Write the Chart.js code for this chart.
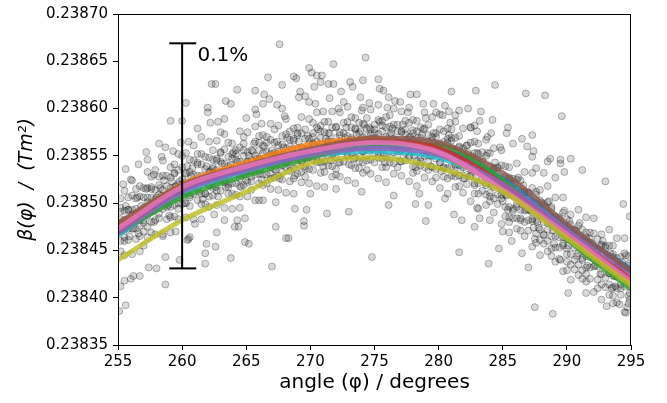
<!DOCTYPE html>
<html>
<head>
<meta charset="utf-8">
<script src="https://cdn.jsdelivr.net/npm/chart.js@4.4.1/dist/chart.umd.min.js"></script>
<style>
  body { margin: 0; background: #fff; }
  canvas { display: block; }
</style>
</head>
<body>
<canvas id="chart" width="667" height="403"></canvas>
<script>
/* ==========================
   DATA
========================== */
const angles = [255, 260, 265, 270, 275, 280, 285, 290, 295];

const fitBlue   = [0.238470, 0.238514, 0.238536, 0.238552, 0.238560, 0.238556, 0.238526, 0.238475, 0.238430];
const fitOrange = [0.238476, 0.238520, 0.238543, 0.238562, 0.238568, 0.238552, 0.238516, 0.238466, 0.238416];
const fitGreen  = [0.238469, 0.238506, 0.238529, 0.238548, 0.238563, 0.238561, 0.238524, 0.238462, 0.238409];
const fitRed    = [0.238471, 0.238515, 0.238538, 0.238555, 0.238566, 0.238558, 0.238520, 0.238469, 0.238420];
const fitPurple = [0.238468, 0.238512, 0.238535, 0.238551, 0.238558, 0.238551, 0.238520, 0.238472, 0.238426];
const fitBrown  = [0.238479, 0.238519, 0.238540, 0.238557, 0.238569, 0.238564, 0.238532, 0.238478, 0.238428];
const fitPink   = [0.238473, 0.238517, 0.238539, 0.238555, 0.238564, 0.238554, 0.238514, 0.238467, 0.238417];
const fitOlive  = [0.238440, 0.238482, 0.238512, 0.238542, 0.238548, 0.238537, 0.238512, 0.238463, 0.238413];
const fitCyan   = [0.238466, 0.238510, 0.238533, 0.238550, 0.238555, 0.238548, 0.238519, 0.238469, 0.238418];

// measured points, main band
const coreDots = [
  [255.2,0.238495],[255.2,0.238483],[255.2,0.238471],[255.2,0.238460],[255.2,0.238505],[255.2,0.238449],
  [255.8,0.238493],[255.8,0.238473],[255.8,0.238506],[255.8,0.238461],[255.8,0.238483],
  [256.4,0.238505],[256.4,0.238485],[256.4,0.238473],[256.4,0.238515],[256.4,0.238462],[256.4,0.238494],
  [257.0,0.238482],[257.0,0.238506],[257.0,0.238495],[257.0,0.238470],[257.0,0.238516],
  [257.6,0.238506],[257.6,0.238480],[257.6,0.238517],[257.6,0.238492],[257.6,0.238469],[257.6,0.238528],
  [258.2,0.238500],[258.2,0.238519],[258.2,0.238484],[258.2,0.238528],[258.2,0.238509],
  [258.8,0.238518],[258.8,0.238496],[258.8,0.238529],[258.8,0.238483],[258.8,0.238508],[258.8,0.238501],
  [259.4,0.238498],[259.4,0.238517],[259.4,0.238531],[259.4,0.238486],[259.4,0.238541],
  [260.0,0.238525],[260.0,0.238508],[260.0,0.238538],[260.0,0.238499],[260.0,0.238515],[260.0,0.238550],
  [260.6,0.238508],[260.6,0.238533],[260.6,0.238522],[260.6,0.238497],[260.6,0.238546],
  [261.2,0.238529],[261.2,0.238516],[261.2,0.238541],[261.2,0.238503],[261.2,0.238552],[261.2,0.238522],
  [261.8,0.238510],[261.8,0.238536],[261.8,0.238549],[261.8,0.238522],[261.8,0.238499],
  [262.4,0.238532],[262.4,0.238516],[262.4,0.238546],[262.4,0.238556],[262.4,0.238508],[262.4,0.238538],
  [263.0,0.238524],[263.0,0.238544],[263.0,0.238513],[263.0,0.238554],[263.0,0.238533],
  [263.6,0.238549],[263.6,0.238529],[263.6,0.238510],[263.6,0.238564],[263.6,0.238539],[263.6,0.238520],
  [264.2,0.238535],[264.2,0.238556],[264.2,0.238521],[264.2,0.238546],[264.2,0.238509],
  [264.8,0.238550],[264.8,0.238530],[264.8,0.238563],[264.8,0.238519],[264.8,0.238541],[264.8,0.238570],
  [265.4,0.238534],[265.4,0.238556],[265.4,0.238523],[265.4,0.238546],[265.4,0.238514],
  [266.0,0.238547],[266.0,0.238531],[266.0,0.238564],[266.0,0.238521],[266.0,0.238556],[266.0,0.238571],
  [266.6,0.238530],[266.6,0.238554],[266.6,0.238542],[266.6,0.238570],[266.6,0.238521],
  [267.2,0.238553],[267.2,0.238536],[267.2,0.238564],[267.2,0.238527],[267.2,0.238547],[267.2,0.238578],
  [267.8,0.238540],[267.8,0.238562],[267.8,0.238525],[267.8,0.238571],[267.8,0.238551],
  [268.4,0.238560],[268.4,0.238546],[268.4,0.238534],[268.4,0.238576],[268.4,0.238523],[268.4,0.238567],
  [269.0,0.238541],[269.0,0.238558],[269.0,0.238572],[269.0,0.238531],[269.0,0.238580],
  [269.6,0.238556],[269.6,0.238539],[269.6,0.238568],[269.6,0.238548],[269.6,0.238578],[269.6,0.238528],
  [270.2,0.238563],[270.2,0.238546],[270.2,0.238535],[270.2,0.238574],[270.2,0.238585],
  [270.8,0.238553],[270.8,0.238569],[270.8,0.238543],[270.8,0.238582],[270.8,0.238532],[270.8,0.238561],
  [271.4,0.238574],[271.4,0.238551],[271.4,0.238540],[271.4,0.238565],[271.4,0.238586],
  [272.0,0.238559],[272.0,0.238580],[272.0,0.238548],[272.0,0.238569],[272.0,0.238536],[272.0,0.238530],
  [272.6,0.238574],[272.6,0.238555],[272.6,0.238585],[272.6,0.238544],[272.6,0.238564],
  [273.2,0.238553],[273.2,0.238569],[273.2,0.238540],[273.2,0.238580],[273.2,0.238591],[273.2,0.238560],
  [273.8,0.238574],[273.8,0.238549],[273.8,0.238565],[273.8,0.238537],[273.8,0.238585],
  [274.4,0.238558],[274.4,0.238579],[274.4,0.238545],[274.4,0.238571],[274.4,0.238590],[274.4,0.238535],
  [275.0,0.238567],[275.0,0.238553],[275.0,0.238583],[275.0,0.238543],[275.0,0.238574],
  [275.6,0.238556],[275.6,0.238576],[275.6,0.238547],[275.6,0.238587],[275.6,0.238538],[275.6,0.238564],
  [276.2,0.238572],[276.2,0.238560],[276.2,0.238543],[276.2,0.238581],[276.2,0.238593],
  [276.8,0.238550],[276.8,0.238567],[276.8,0.238583],[276.8,0.238538],[276.8,0.238576],[276.8,0.238558],
  [277.4,0.238563],[277.4,0.238545],[277.4,0.238573],[277.4,0.238587],[277.4,0.238553],
  [278.0,0.238539],[278.0,0.238567],[278.0,0.238577],[278.0,0.238555],[278.0,0.238588],[278.0,0.238532],
  [278.6,0.238569],[278.6,0.238548],[278.6,0.238580],[278.6,0.238540],[278.6,0.238559],
  [279.2,0.238554],[279.2,0.238572],[279.2,0.238535],[279.2,0.238565],[279.2,0.238583],[279.2,0.238544],
  [279.8,0.238561],[279.8,0.238547],[279.8,0.238574],[279.8,0.238536],[279.8,0.238527],
  [280.4,0.238551],[280.4,0.238565],[280.4,0.238538],[280.4,0.238576],[280.4,0.238528],[280.4,0.238557],
  [281.0,0.238558],[281.0,0.238539],[281.0,0.238569],[281.0,0.238529],[281.0,0.238578],
  [281.6,0.238540],[281.6,0.238560],[281.6,0.238529],[281.6,0.238550],[281.6,0.238571],[281.6,0.238518],
  [282.2,0.238549],[282.2,0.238530],[282.2,0.238561],[282.2,0.238520],[282.2,0.238543],
  [282.8,0.238534],[282.8,0.238553],[282.8,0.238521],[282.8,0.238546],[282.8,0.238565],[282.8,0.238510],
  [283.4,0.238543],[283.4,0.238524],[283.4,0.238554],[283.4,0.238513],[283.4,0.238535],
  [284.0,0.238521],[284.0,0.238539],[284.0,0.238502],[284.0,0.238533],[284.0,0.238553],[284.0,0.238511],
  [284.6,0.238527],[284.6,0.238509],[284.6,0.238538],[284.6,0.238499],[284.6,0.238520],
  [285.2,0.238509],[285.2,0.238528],[285.2,0.238496],[285.2,0.238519],[285.2,0.238539],[285.2,0.238486],
  [285.8,0.238515],[285.8,0.238494],[285.8,0.238526],[285.8,0.238484],[285.8,0.238508],
  [286.4,0.238493],[286.4,0.238512],[286.4,0.238482],[286.4,0.238504],[286.4,0.238524],[286.4,0.238471],
  [287.0,0.238500],[287.0,0.238482],[287.0,0.238511],[287.0,0.238471],[287.0,0.238493],
  [287.6,0.238482],[287.6,0.238500],[287.6,0.238468],[287.6,0.238491],[287.6,0.238512],[287.6,0.238458],
  [288.2,0.238488],[288.2,0.238467],[288.2,0.238499],[288.2,0.238457],[288.2,0.238480],
  [288.8,0.238465],[288.8,0.238484],[288.8,0.238452],[288.8,0.238477],[288.8,0.238496],[288.8,0.238444],
  [289.4,0.238472],[289.4,0.238453],[289.4,0.238483],[289.4,0.238441],[289.4,0.238464],
  [290.0,0.238452],[290.0,0.238471],[290.0,0.238438],[290.0,0.238462],[290.0,0.238483],[290.0,0.238429],
  [290.6,0.238459],[290.6,0.238440],[290.6,0.238472],[290.6,0.238430],[290.6,0.238453],
  [291.2,0.238440],[291.2,0.238460],[291.2,0.238429],[291.2,0.238451],[291.2,0.238472],[291.2,0.238420],
  [291.8,0.238451],[291.8,0.238432],[291.8,0.238462],[291.8,0.238420],[291.8,0.238443],
  [292.4,0.238433],[292.4,0.238451],[292.4,0.238419],[292.4,0.238444],[292.4,0.238462],[292.4,0.238410],
  [293.0,0.238440],[293.0,0.238421],[293.0,0.238453],[293.0,0.238411],[293.0,0.238434],
  [293.6,0.238423],[293.6,0.238443],[293.6,0.238411],[293.6,0.238434],[293.6,0.238455],[293.6,0.238402],
  [294.2,0.238433],[294.2,0.238414],[294.2,0.238443],[294.2,0.238403],[294.2,0.238425],
  [294.8,0.238416],[294.8,0.238434],[294.8,0.238402],[294.8,0.238427],[294.8,0.238444],[294.8,0.238394]
];

// measured points, centre of the band
const innerDots = [
  [255.3,0.238479],[255.5,0.238464],[255.2,0.238491],[255.4,0.238472],[255.6,0.238497],
  [255.9,0.238465],[256.1,0.238488],[255.8,0.238493],[256.0,0.238480],[256.2,0.238473],
  [256.5,0.238506],[256.7,0.238482],[256.4,0.238489],[256.6,0.238468],[256.8,0.238497],
  [257.1,0.238490],[257.3,0.238506],[257.0,0.238479],[257.2,0.238515],[257.4,0.238498],
  [257.7,0.238491],[257.9,0.238501],[257.6,0.238515],[257.8,0.238480],[258.0,0.238506],
  [258.3,0.238516],[258.5,0.238500],[258.2,0.238489],[258.4,0.238508],[258.6,0.238524],
  [258.9,0.238498],[259.1,0.238516],[258.8,0.238509],[259.0,0.238487],[259.2,0.238523],
  [259.5,0.238518],[259.7,0.238500],[259.4,0.238532],[259.6,0.238510],[259.8,0.238523],
  [260.1,0.238511],[260.3,0.238531],[260.0,0.238520],[260.2,0.238500],[260.4,0.238539],
  [260.7,0.238529],[260.9,0.238518],[260.6,0.238506],[260.8,0.238537],[261.0,0.238521],
  [261.3,0.238512],[261.5,0.238529],[261.2,0.238543],[261.4,0.238522],[261.6,0.238504],
  [261.9,0.238539],[262.1,0.238519],[262.0,0.238528],[261.8,0.238510],[262.2,0.238534],
  [262.5,0.238525],[262.7,0.238547],[262.4,0.238536],[262.6,0.238517],[262.8,0.238507],
  [263.1,0.238542],[263.3,0.238524],[263.0,0.238553],[263.2,0.238533],[263.4,0.238517],
  [263.7,0.238533],[263.9,0.238547],[263.6,0.238517],[263.8,0.238540],[264.0,0.238554],
  [264.3,0.238544],[264.5,0.238526],[264.2,0.238552],[264.4,0.238534],[264.6,0.238517],
  [264.9,0.238532],[265.1,0.238543],[264.8,0.238556],[265.0,0.238524],[265.2,0.238550],
  [265.5,0.238555],[265.7,0.238540],[265.4,0.238528],[265.6,0.238563],[265.8,0.238547],
  [266.1,0.238535],[266.3,0.238553],[266.0,0.238546],[266.2,0.238525],[266.4,0.238560],
  [266.7,0.238549],[266.9,0.238531],[266.6,0.238564],[266.8,0.238540],[267.0,0.238556],
  [267.3,0.238535],[267.5,0.238554],[267.2,0.238548],[267.4,0.238565],[267.6,0.238526],
  [267.9,0.238559],[268.1,0.238543],[267.8,0.238533],[268.0,0.238552],[268.2,0.238569],
  [268.5,0.238548],[268.7,0.238566],[268.4,0.238539],[268.6,0.238557],[268.8,0.238529],
  [269.1,0.238565],[269.3,0.238544],[269.0,0.238574],[269.2,0.238552],[269.4,0.238558],
  [269.7,0.238547],[269.9,0.238563],[269.6,0.238536],[269.8,0.238571],[270.0,0.238555],
  [270.3,0.238562],[270.5,0.238543],[270.2,0.238570],[270.4,0.238552],[270.6,0.238578],
  [270.9,0.238548],[271.1,0.238561],[270.8,0.238576],[271.0,0.238539],[271.2,0.238568],
  [271.5,0.238574],[271.7,0.238557],[271.4,0.238566],[271.6,0.238545],[271.8,0.238553],
  [272.1,0.238555],[272.3,0.238572],[272.0,0.238581],[272.2,0.238543],[272.4,0.238562],
  [272.7,0.238569],[272.9,0.238550],[272.6,0.238560],[272.8,0.238580],[273.0,0.238541],
  [273.3,0.238558],[273.5,0.238578],[273.2,0.238567],[273.4,0.238547],[273.6,0.238573],
  [273.9,0.238576],[274.1,0.238555],[273.8,0.238544],[274.0,0.238565],[274.2,0.238583],
  [274.5,0.238562],[274.7,0.238572],[274.4,0.238550],[274.6,0.238580],[274.8,0.238557],
  [275.1,0.238569],[275.3,0.238548],[275.0,0.238578],[275.2,0.238560],[275.4,0.238586],
  [275.7,0.238553],[275.9,0.238570],[275.6,0.238582],[275.8,0.238543],[276.0,0.238564],
  [276.3,0.238574],[276.5,0.238558],[276.2,0.238548],[276.4,0.238579],[276.6,0.238566],
  [276.9,0.238555],[277.1,0.238575],[276.8,0.238564],[277.0,0.238544],[277.2,0.238583],
  [277.5,0.238567],[277.7,0.238549],[277.4,0.238578],[277.6,0.238559],[277.8,0.238570],
  [278.1,0.238550],[278.3,0.238563],[278.0,0.238574],[278.2,0.238538],[278.4,0.238569],
  [278.7,0.238572],[278.9,0.238555],[278.6,0.238544],[278.8,0.238578],[279.0,0.238559],
  [279.3,0.238550],[279.5,0.238566],[279.2,0.238559],[279.4,0.238539],[279.6,0.238574],
  [279.9,0.238562],[280.1,0.238543],[279.8,0.238570],[280.0,0.238553],[280.2,0.238534],
  [280.5,0.238548],[280.7,0.238564],[280.4,0.238537],[280.6,0.238556],[280.8,0.238572],
  [281.1,0.238557],[281.3,0.238541],[281.0,0.238566],[281.2,0.238532],[281.4,0.238550],
  [281.7,0.238535],[281.9,0.238551],[281.6,0.238559],[281.8,0.238543],[282.0,0.238526],
  [282.3,0.238553],[282.5,0.238536],[282.2,0.238561],[282.4,0.238528],[282.6,0.238544],
  [282.9,0.238528],[283.1,0.238545],[282.8,0.238519],[283.0,0.238553],[283.2,0.238537],
  [283.5,0.238536],[283.7,0.238519],[283.4,0.238546],[283.6,0.238528],[283.8,0.238553],
  [284.1,0.238519],[284.3,0.238536],[284.0,0.238507],[284.2,0.238528],[284.4,0.238543],
  [284.7,0.238526],[284.9,0.238509],[284.6,0.238537],[284.8,0.238517],[285.0,0.238502],
  [285.3,0.238508],[285.5,0.238525],[285.2,0.238515],[285.4,0.238493],[285.6,0.238521],
  [285.9,0.238521],[286.1,0.238499],[285.8,0.238492],[286.0,0.238510],[286.2,0.238527],
  [286.5,0.238499],[286.7,0.238511],[286.4,0.238484],[286.6,0.238519],[286.8,0.238493],
  [287.1,0.238502],[287.3,0.238483],[287.0,0.238511],[287.2,0.238492],[287.4,0.238474],
  [287.7,0.238480],[287.9,0.238494],[287.6,0.238509],[287.8,0.238474],[288.0,0.238501],
  [288.3,0.238496],[288.5,0.238479],[288.2,0.238466],[288.4,0.238485],[288.6,0.238502],
  [288.9,0.238471],[289.1,0.238486],[288.8,0.238494],[289.0,0.238457],[289.2,0.238478],
  [289.5,0.238475],[289.7,0.238457],[289.4,0.238485],[289.6,0.238469],[289.8,0.238492],
  [290.1,0.238455],[290.3,0.238472],[290.0,0.238446],[290.2,0.238481],[290.4,0.238466],
  [290.7,0.238471],[290.9,0.238455],[290.6,0.238463],[290.8,0.238444],[291.0,0.238479],
  [291.3,0.238452],[291.5,0.238469],[291.2,0.238442],[291.4,0.238461],[291.6,0.238434],
  [291.9,0.238458],[292.1,0.238441],[291.8,0.238469],[292.0,0.238448],[292.2,0.238434],
  [292.5,0.238438],[292.7,0.238455],[292.4,0.238445],[292.6,0.238425],[292.8,0.238460],
  [293.1,0.238443],[293.3,0.238426],[293.0,0.238455],[293.2,0.238434],[293.4,0.238447],
  [293.7,0.238423],[293.9,0.238435],[293.6,0.238446],[293.8,0.238412],[294.0,0.238432],
  [294.3,0.238438],[294.5,0.238419],[294.2,0.238410],[294.4,0.238433],[294.6,0.238445],
  [294.9,0.238417],[294.8,0.238429],[294.9,0.238405],[294.8,0.238436],[294.9,0.238398]
];

// measured points, wider fringe of the band
const fringeDots = [
  [255.5,0.238513],[255.5,0.238492],[255.5,0.238472],[255.5,0.238460],[255.5,0.238445],[255.5,0.238482],
  [256.1,0.238446],[256.1,0.238473],[256.1,0.238493],[256.1,0.238508],[256.1,0.238524],[256.1,0.238482],
  [256.7,0.238518],[256.7,0.238465],[256.7,0.238507],[256.7,0.238476],[256.7,0.238491],[256.7,0.238449],
  [257.3,0.238475],[257.3,0.238533],[257.3,0.238501],[257.3,0.238464],[257.3,0.238516],[257.3,0.238487],
  [257.9,0.238535],[257.9,0.238514],[257.9,0.238494],[257.9,0.238482],[257.9,0.238467],[257.9,0.238504],
  [258.5,0.238467],[258.5,0.238494],[258.5,0.238514],[258.5,0.238529],[258.5,0.238545],[258.5,0.238503],
  [259.1,0.238538],[259.1,0.238485],[259.1,0.238527],[259.1,0.238496],[259.1,0.238511],[259.1,0.238469],
  [259.7,0.238494],[259.7,0.238552],[259.7,0.238520],[259.7,0.238483],[259.7,0.238535],[259.7,0.238506],
  [260.3,0.238553],[260.3,0.238532],[260.3,0.238512],[260.3,0.238500],[260.3,0.238485],[260.3,0.238522],
  [260.9,0.238483],[260.9,0.238510],[260.9,0.238530],[260.9,0.238545],[260.9,0.238561],[260.9,0.238519],
  [261.5,0.238552],[261.5,0.238499],[261.5,0.238541],[261.5,0.238510],[261.5,0.238525],[261.5,0.238483],
  [262.1,0.238507],[262.1,0.238565],[262.1,0.238533],[262.1,0.238496],[262.1,0.238548],[262.1,0.238519],
  [262.7,0.238566],[262.7,0.238545],[262.7,0.238525],[262.7,0.238513],[262.7,0.238498],[262.7,0.238535],
  [263.3,0.238495],[263.3,0.238522],[263.3,0.238542],[263.3,0.238557],[263.3,0.238573],[263.3,0.238531],
  [263.9,0.238563],[263.9,0.238510],[263.9,0.238552],[263.9,0.238521],[263.9,0.238536],[263.9,0.238494],
  [264.5,0.238518],[264.5,0.238576],[264.5,0.238544],[264.5,0.238507],[264.5,0.238559],[264.5,0.238530],
  [265.1,0.238575],[265.1,0.238554],[265.1,0.238534],[265.1,0.238522],[265.1,0.238507],[265.1,0.238544],
  [265.7,0.238503],[265.7,0.238530],[265.7,0.238550],[265.7,0.238565],[265.7,0.238581],[265.7,0.238539],
  [266.3,0.238572],[266.3,0.238519],[266.3,0.238561],[266.3,0.238530],[266.3,0.238545],[266.3,0.238503],
  [266.9,0.238526],[266.9,0.238584],[266.9,0.238552],[266.9,0.238515],[266.9,0.238567],[266.9,0.238538],
  [267.5,0.238582],[267.5,0.238561],[267.5,0.238541],[267.5,0.238529],[267.5,0.238514],[267.5,0.238551],
  [268.1,0.238511],[268.1,0.238538],[268.1,0.238558],[268.1,0.238573],[268.1,0.238589],[268.1,0.238547],
  [268.7,0.238579],[268.7,0.238526],[268.7,0.238568],[268.7,0.238537],[268.7,0.238552],[268.7,0.238510],
  [269.3,0.238533],[269.3,0.238591],[269.3,0.238559],[269.3,0.238522],[269.3,0.238574],[269.3,0.238545],
  [269.9,0.238589],[269.9,0.238568],[269.9,0.238548],[269.9,0.238536],[269.9,0.238521],[269.9,0.238558],
  [270.5,0.238518],[270.5,0.238545],[270.5,0.238565],[270.5,0.238580],[270.5,0.238596],[270.5,0.238554],
  [271.1,0.238586],[271.1,0.238533],[271.1,0.238575],[271.1,0.238544],[271.1,0.238559],[271.1,0.238517],
  [271.7,0.238539],[271.7,0.238597],[271.7,0.238565],[271.7,0.238528],[271.7,0.238580],[271.7,0.238551],
  [272.3,0.238596],[272.3,0.238575],[272.3,0.238555],[272.3,0.238543],[272.3,0.238528],[272.3,0.238565],
  [272.9,0.238524],[272.9,0.238551],[272.9,0.238571],[272.9,0.238586],[272.9,0.238602],[272.9,0.238560],
  [273.5,0.238590],[273.5,0.238537],[273.5,0.238579],[273.5,0.238548],[273.5,0.238563],[273.5,0.238521],
  [274.1,0.238543],[274.1,0.238601],[274.1,0.238569],[274.1,0.238532],[274.1,0.238584],[274.1,0.238555],
  [274.7,0.238599],[274.7,0.238578],[274.7,0.238558],[274.7,0.238546],[274.7,0.238531],[274.7,0.238568],
  [275.3,0.238526],[275.3,0.238553],[275.3,0.238573],[275.3,0.238588],[275.3,0.238604],[275.3,0.238562],
  [275.9,0.238591],[275.9,0.238538],[275.9,0.238580],[275.9,0.238549],[275.9,0.238564],[275.9,0.238522],
  [276.5,0.238542],[276.5,0.238600],[276.5,0.238568],[276.5,0.238531],[276.5,0.238583],[276.5,0.238554],
  [277.1,0.238597],[277.1,0.238576],[277.1,0.238556],[277.1,0.238544],[277.1,0.238529],[277.1,0.238566],
  [277.7,0.238523],[277.7,0.238550],[277.7,0.238570],[277.7,0.238585],[277.7,0.238601],[277.7,0.238559],
  [278.3,0.238587],[278.3,0.238534],[278.3,0.238576],[278.3,0.238545],[278.3,0.238560],[278.3,0.238518],
  [278.9,0.238538],[278.9,0.238596],[278.9,0.238564],[278.9,0.238527],[278.9,0.238579],[278.9,0.238550],
  [279.5,0.238591],[279.5,0.238570],[279.5,0.238550],[279.5,0.238538],[279.5,0.238523],[279.5,0.238560],
  [280.1,0.238516],[280.1,0.238543],[280.1,0.238563],[280.1,0.238578],[280.1,0.238594],[280.1,0.238552],
  [280.7,0.238579],[280.7,0.238526],[280.7,0.238568],[280.7,0.238537],[280.7,0.238552],[280.7,0.238510],
  [281.3,0.238528],[281.3,0.238586],[281.3,0.238554],[281.3,0.238517],[281.3,0.238569],[281.3,0.238540],
  [281.9,0.238579],[281.9,0.238558],[281.9,0.238538],[281.9,0.238526],[281.9,0.238511],[281.9,0.238548],
  [282.5,0.238502],[282.5,0.238529],[282.5,0.238549],[282.5,0.238564],[282.5,0.238580],[282.5,0.238538],
  [283.1,0.238563],[283.1,0.238510],[283.1,0.238552],[283.1,0.238521],[283.1,0.238536],[283.1,0.238494],
  [283.7,0.238509],[283.7,0.238567],[283.7,0.238535],[283.7,0.238498],[283.7,0.238550],[283.7,0.238521],
  [284.3,0.238558],[284.3,0.238537],[284.3,0.238517],[284.3,0.238505],[284.3,0.238490],[284.3,0.238527],
  [284.9,0.238478],[284.9,0.238505],[284.9,0.238525],[284.9,0.238540],[284.9,0.238556],[284.9,0.238514],
  [285.5,0.238538],[285.5,0.238485],[285.5,0.238527],[285.5,0.238496],[285.5,0.238511],[285.5,0.238469],
  [286.1,0.238484],[286.1,0.238542],[286.1,0.238510],[286.1,0.238473],[286.1,0.238525],[286.1,0.238496],
  [286.7,0.238533],[286.7,0.238512],[286.7,0.238492],[286.7,0.238480],[286.7,0.238465],[286.7,0.238502],
  [287.3,0.238454],[287.3,0.238481],[287.3,0.238501],[287.3,0.238516],[287.3,0.238532],[287.3,0.238490],
  [287.9,0.238514],[287.9,0.238461],[287.9,0.238503],[287.9,0.238472],[287.9,0.238487],[287.9,0.238445],
  [288.5,0.238460],[288.5,0.238518],[288.5,0.238486],[288.5,0.238449],[288.5,0.238501],[288.5,0.238472],
  [289.1,0.238506],[289.1,0.238485],[289.1,0.238465],[289.1,0.238453],[289.1,0.238438],[289.1,0.238475],
  [289.7,0.238428],[289.7,0.238455],[289.7,0.238475],[289.7,0.238490],[289.7,0.238506],[289.7,0.238464],
  [290.3,0.238488],[290.3,0.238435],[290.3,0.238477],[290.3,0.238446],[290.3,0.238461],[290.3,0.238419],
  [290.9,0.238435],[290.9,0.238493],[290.9,0.238461],[290.9,0.238424],[290.9,0.238476],[290.9,0.238447],
  [291.5,0.238485],[291.5,0.238464],[291.5,0.238444],[291.5,0.238432],[291.5,0.238417],[291.5,0.238454],
  [292.1,0.238406],[292.1,0.238433],[292.1,0.238453],[292.1,0.238468],[292.1,0.238484],[292.1,0.238442],
  [292.7,0.238467],[292.7,0.238414],[292.7,0.238456],[292.7,0.238425],[292.7,0.238440],[292.7,0.238398],
  [293.3,0.238414],[293.3,0.238472],[293.3,0.238440],[293.3,0.238403],[293.3,0.238455],[293.3,0.238426],
  [293.9,0.238463],[293.9,0.238442],[293.9,0.238422],[293.9,0.238410],[293.9,0.238395],[293.9,0.238432],
  [294.5,0.238385],[294.5,0.238412],[294.5,0.238432],[294.5,0.238447],[294.5,0.238463],[294.5,0.238421]
];

// measured points, scattered away from the band
const strayDots = [
  [267.6,0.238668],[266.7,0.238633],[262.3,0.238626],[262.6,0.238626],[264.3,0.238620],[265.7,0.238619],
  [267.8,0.238625],[266.4,0.238615],[266.8,0.238610],[266.3,0.238605],[260.3,0.238606],[263.4,0.238608],
  [263.8,0.238605],[262.0,0.238601],[262.0,0.238596],[265.7,0.238599],[265.8,0.238594],[267.4,0.238604],
  [267.8,0.238600],[259.1,0.238587],[260.0,0.238587],[262.2,0.238585],[262.8,0.238586],[263.3,0.238589],
  [261.2,0.238579],[258.2,0.238563],[258.7,0.238559],[259.3,0.238555],[259.9,0.238564],[257.2,0.238554],
  [256.6,0.238541],[255.6,0.238536],[257.3,0.238546],[258.4,0.238549],
  [274.3,0.238654],[271.8,0.238647],[269.9,0.238643],[268.7,0.238634],[268.9,0.238632],[270.1,0.238638],
  [270.5,0.238635],[270.9,0.238635],[270.8,0.238628],[271.4,0.238626],[271.8,0.238626],[270.3,0.238623],
  [273.1,0.238628],[273.3,0.238623],[274.1,0.238630],[275.3,0.238631],[275.4,0.238621],[275.7,0.238619],
  [269.2,0.238618],[269.6,0.238613],[269.1,0.238612],[272.4,0.238618],[277.8,0.238615],[278.3,0.238615],
  [281.0,0.238618],[276.1,0.238612],[276.6,0.238608],[277.0,0.238607],[278.8,0.238605],[279.6,0.238605],
  [280.5,0.238603],[269.9,0.238607],[270.4,0.238605],[271.5,0.238611],[272.6,0.238607],[273.9,0.238612],
  [274.6,0.238606],[279.8,0.238596],[280.3,0.238593],[280.8,0.238597],[281.3,0.238593],[281.6,0.238598],
  [284.4,0.238625],[282.9,0.238619],[286.8,0.238616],[288.3,0.238614],[282.3,0.238600],[283.3,0.238597],
  [284.2,0.238588],[283.2,0.238587],[289.6,0.238592],[282.8,0.238582],[283.0,0.238576],[284.1,0.238574],
  [285.4,0.238580],[285.3,0.238574],[287.3,0.238572],[286.5,0.238568],[285.8,0.238563],[284.8,0.238559],
  [286.9,0.238560],[287.4,0.238555],[287.3,0.238549],[288.5,0.238544],[288.7,0.238547],[289.5,0.238546],
  [289.5,0.238542],[290.3,0.238547],[289.8,0.238533],[291.2,0.238535],[287.6,0.238537],[288.2,0.238532],
  [289.1,0.238527],
  [267.3,0.238475],[268.1,0.238463],[264.9,0.238459],[265.2,0.238457],[263.8,0.238442],[267.0,0.238433],
  [261.8,0.238436],[261.9,0.238457],[262.6,0.238454],[261.8,0.238447],[260.5,0.238462],[259.8,0.238440],
  [258.7,0.238443],[257.4,0.238432],[258.0,0.238431],[256.7,0.238423],[256.0,0.238420],[256.2,0.238423],
  [255.5,0.238418],[255.2,0.238412],[258.7,0.238414],[255.6,0.238392],[255.1,0.238386],[262.7,0.238469],
  [260.4,0.238461],[260.6,0.238464],[264.3,0.238482],[264.9,0.238484],[263.3,0.238482],[264.1,0.238475],
  [264.4,0.238475],[267.3,0.238501],
  [268.8,0.238494],[269.7,0.238493],[271.3,0.238489],[273.0,0.238491],[269.5,0.238481],[269.5,0.238476],
  [268.3,0.238463],[274.8,0.238443],[279.0,0.238481],[281.6,0.238448],[281.2,0.238488],[278.2,0.238499],
  [276.1,0.238498],[279.2,0.238498],
  [287.5,0.238390],[288.9,0.238383],[283.9,0.238436],[287.0,0.238432],[290.1,0.238405],[291.5,0.238405],
  [293.1,0.238391],[293.6,0.238394],[294.1,0.238393],[294.6,0.238384],[294.7,0.238390],[293.0,0.238523],
  [294.4,0.238499],[294.9,0.238486],[282.8,0.238475],[284.7,0.238452],[285.7,0.238460],[286.5,0.238447],
  [281.8,0.238482],[283.2,0.238484],[284.0,0.238482],[285.0,0.238470],
  [265.0,0.238590],[266.2,0.238584],[268.0,0.238592],[271.0,0.238597],[272.2,0.238600],[274.0,0.238598],
  [276.0,0.238601],[277.6,0.238596],[279.0,0.238590],[280.9,0.238585],[282.5,0.238580],[283.8,0.238570],
  [263.0,0.238575],[261.5,0.238570],[260.5,0.238565],[257.8,0.238530],[256.0,0.238525],[255.4,0.238520],
  [270.0,0.238510],[272.0,0.238515],[274.0,0.238512],[276.5,0.238508],[278.5,0.238510],[280.5,0.238505],
  [283.0,0.238495],[285.5,0.238480],[287.5,0.238462],[289.5,0.238440],[291.5,0.238425],[293.5,0.238410],
  [257.0,0.238455],[258.5,0.238465],[259.5,0.238470],[261.0,0.238478],[262.5,0.238488],[264.5,0.238495],
  [266.0,0.238503]
];

// the 0.1% scale bar
const barAngle = 260;
const barLow = 0.238431;
const barHigh = 0.238669;
const barCap = [259.0, 261.1];
const barLabel = "0.1%";
const barLabelAt = [261.2, 0.238650];

const xTicks = { min: 255, max: 295, step: 5 };
const yTicks = { min: 0.23835, max: 0.23870, step: 0.00005 };

/* ==========================
   DATASETS
========================== */
const fits = [
  [fitBlue,   "rgba(31,119,180,0.8)",  9],
  [fitOrange, "rgba(255,127,14,0.8)",  8],
  [fitGreen,  "rgba(44,160,44,0.8)",   7],
  [fitRed,    "rgba(214,39,40,0.8)",   6],
  [fitPurple, "rgba(148,103,189,0.8)", 5],
  [fitBrown,  "rgba(140,86,75,0.8)",   4],
  [fitPink,   "rgba(227,119,194,0.85)", 3],
  [fitOlive,  "rgba(188,189,34,0.8)",  2],
  [fitCyan,   "rgba(23,190,207,0.8)",  10]
];

const pts = arr => arr.map(p => ({ x: p[0], y: p[1] }));

const datasets = [];
datasets.push({
    data: pts(coreDots.concat(innerDots, fringeDots, strayDots)),
    pointRadius: 3.5,
    pointBackgroundColor: "rgba(0,0,0,0.15)",
    pointBorderColor: "rgba(0,0,0,0.28)",
    pointBorderWidth: 1,
    order: 20
});
fits.forEach(([vals, color, ord]) => {
    datasets.push({
        data: angles.map((a, i) => ({ x: a, y: vals[i] })),
        showLine: true,
        borderColor: color,
        borderWidth: 5,
        pointRadius: 0,
        cubicInterpolationMode: "monotone",
        order: ord
    });
});
// scale bar: stem and caps
[
  [[barAngle, barLow], [barAngle, barHigh]],
  [[barCap[0], barHigh], [barCap[1], barHigh]],
  [[barCap[0], barLow], [barCap[1], barLow]]
].forEach(seg => {
    datasets.push({
        data: pts(seg),
        showLine: true,
        borderColor: "#000",
        borderWidth: 2,
        pointRadius: 0,
        order: -1
    });
});

/* ==========================
   FRAME + LABEL
========================== */
const framePlugin = {
    id: "frame",
    afterDraw(chart) {
        const { ctx, chartArea: a, scales } = chart;
        ctx.save();
        ctx.strokeStyle = "#000";
        ctx.lineWidth = 1;
        ctx.strokeRect(Math.round(a.left) + 0.5, Math.round(a.top) + 0.5,
            Math.round(a.width) - 1, Math.round(a.height));
        ctx.fillStyle = "#000";
        ctx.font = '20px "DejaVu Sans"';
        ctx.textBaseline = "alphabetic";
        ctx.fillText(barLabel,
            scales.x.getPixelForValue(barLabelAt[0]),
            scales.y.getPixelForValue(barLabelAt[1]));
        ctx.restore();
    }
};

/* ==========================
   CHART
========================== */
const tickFont = { family: "DejaVu Sans", size: 15 };

new Chart(document.getElementById("chart"), {
    type: "scatter",
    data: { datasets },
    plugins: [framePlugin],
    options: {
        responsive: false,
        animation: false,
        devicePixelRatio: 1,
        layout: { padding: { top: 12, right: 36, left: 0, bottom: 0 } },
        plugins: { legend: { display: false }, tooltip: { enabled: false } },
        scales: {
            x: {
                type: "linear",
                min: xTicks.min,
                max: xTicks.max,
                afterFit: s => { s.height = 58; },
                ticks: {
                    stepSize: xTicks.step,
                    color: "#000",
                    font: tickFont,
                    padding: 3,
                    maxRotation: 0
                },
                grid: { drawOnChartArea: false, tickLength: 5, tickColor: "#000" },
                border: { display: false },
                title: {
                    display: true,
                    text: "angle (φ) / degrees",
                    color: "#000",
                    font: { family: "DejaVu Sans", size: 20 },
                    padding: { top: 0, bottom: 8 }
                }
            },
            y: {
                type: "linear",
                min: yTicks.min,
                max: yTicks.max,
                afterFit: s => { s.width = 118; },
                ticks: {
                    stepSize: yTicks.step,
                    color: "#000",
                    font: tickFont,
                    padding: 5,
                    callback: v => v.toFixed(5)
                },
                grid: { drawOnChartArea: false, tickLength: 5, tickColor: "#000" },
                border: { display: false },
                title: {
                    display: true,
                    text: "β(φ)  /  (Tm²)",
                    color: "#000",
                    font: { family: "DejaVu Sans", size: 19, style: "italic" },
                    padding: { top: 16, bottom: 0 }
                }
            }
        }
    }
});
</script>
</body>
</html>
